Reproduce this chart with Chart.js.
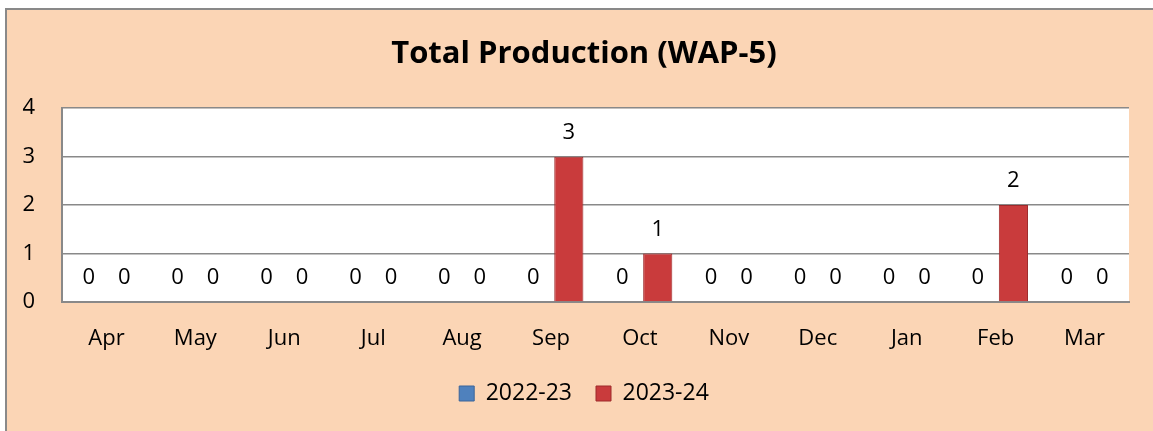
<!DOCTYPE html>
<html>
<head>
<meta charset="utf-8">
<script src="https://cdn.jsdelivr.net/npm/chart.js@4.4.0/dist/chart.umd.min.js"></script>
<style>
  html, body { margin: 0; padding: 0; background: #fff; }
  #wrap { width: 1153px; height: 431px; position: relative; }
</style>
</head>
<body>
<div id="wrap"><canvas id="Chart" width="1153" height="431"></canvas></div>
<script>
const months = ['Apr', 'May', 'Jun', 'Jul', 'Aug', 'Sep', 'Oct', 'Nov', 'Dec', 'Jan', 'Feb', 'Mar'];
const prod2223 = [0, 0, 0, 0, 0, 0, 0, 0, 0, 0, 0, 0];
const prod2324 = [0, 0, 0, 0, 0, 3, 1, 0, 0, 0, 2, 0];
const yTicks = [0, 1, 2, 3, 4];

const fontFamily = "'Open Sans', Lato, sans-serif";
const peach = '#FBD5B5';
const lineGray = '#898989';

// frame + white plot area
const backdrop = {
    id: 'backdrop',
    beforeDraw(chart) {
        const c = chart.ctx;
        const a = chart.chartArea;
        c.save();
        c.fillStyle = '#ffffff';
        c.fillRect(0, 0, chart.width, chart.height);
        c.fillStyle = peach;
        c.fillRect(5, 8, chart.width, chart.height);
        c.strokeStyle = lineGray;
        c.lineWidth = 2;
        c.beginPath();
        c.moveTo(6, chart.height + 2);
        c.lineTo(6, 9);
        c.lineTo(chart.width + 2, 9);
        c.stroke();
        c.fillStyle = '#ffffff';
        c.fillRect(a.left, a.top, a.right - a.left, a.bottom - a.top);
        c.restore();
    }
};

// value labels above every bar
const valueLabels = {
    id: 'valueLabels',
    afterDatasetsDraw(chart) {
        const c = chart.ctx;
        c.save();
        c.font = '22px ' + fontFamily;
        c.fillStyle = '#000';
        c.textAlign = 'center';
        c.textBaseline = 'middle';
        chart.data.datasets.forEach(function (ds, i) {
            chart.getDatasetMeta(i).data.forEach(function (bar, j) {
                c.fillText(String(ds.data[j]), bar.x, bar.y - 24);
            });
        });
        c.restore();
    }
};

const ctx = document.getElementById('Chart').getContext('2d');
new Chart(ctx, {
    type: 'bar',
    data: {
        labels: months,
        datasets: [
            {
                label: '2022-23',
                data: prod2223,
                backgroundColor: '#4F81BD',
                borderColor: '#3A659A',
                borderWidth: 1
            },
            {
                label: '2023-24',
                data: prod2324,
                backgroundColor: '#C93B3C',
                borderColor: '#9E2A2B',
                borderWidth: 1
            }
        ]
    },
    options: {
        responsive: false,
        animation: false,
        devicePixelRatio: 1,
        layout: { padding: { left: 15, right: 0, top: 0, bottom: 16 } },
        datasets: {
            bar: { categoryPercentage: 0.8, barPercentage: 0.82 }
        },
        scales: {
            x: {
                grid: { display: false, drawTicks: false },
                border: { display: true, color: lineGray, width: 2 },
                ticks: {
                    color: '#000',
                    padding: 24,
                    font: { family: fontFamily, size: 22 }
                },
                afterFit(scale) { scale.height = 56; }
            },
            y: {
                min: 0,
                max: 4,
                afterBuildTicks(scale) { scale.ticks = yTicks.map(v => ({ value: v })); },
                grid: { color: lineGray, lineWidth: 1.5, drawTicks: false },
                border: { display: true, color: lineGray, width: 2 },
                ticks: {
                    color: '#000',
                    padding: 27,
                    font: { family: fontFamily, size: 22 }
                },
                afterFit(scale) { scale.width = 47; }
            },
            // empty strip on the right, keeps the plot short of the frame edge
            yRight: {
                position: 'right',
                grid: { display: false, drawTicks: false },
                border: { display: false },
                ticks: { display: false },
                afterFit(scale) { scale.width = 24; }
            }
        },
        plugins: {
            title: {
                display: true,
                text: 'Total Production (WAP-5)',
                color: '#000',
                font: { family: fontFamily, size: 31, weight: 'bold' },
                padding: { top: 36, bottom: 35 }
            },
            legend: {
                position: 'bottom',
                labels: {
                    color: '#000',
                    boxWidth: 15,
                    boxHeight: 15,
                    padding: 24,
                    font: { family: fontFamily, size: 23 }
                }
            },
            tooltip: { enabled: false }
        }
    },
    plugins: [backdrop, valueLabels]
});
</script>
</body>
</html>
